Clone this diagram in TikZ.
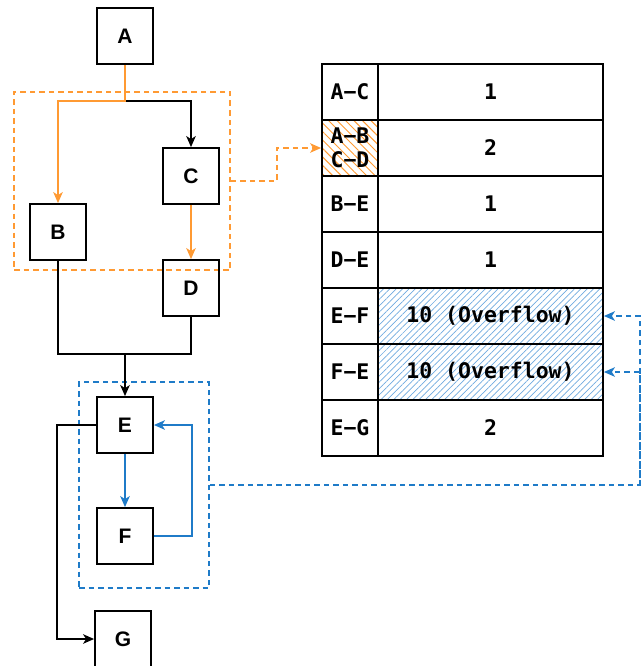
\documentclass[tikz,border=0pt]{standalone}
\usepackage{fontspec}
\setmainfont{Liberation Sans}
\newfontfamily\tblmono{DejaVu Sans Mono}
\usetikzlibrary{arrows.meta,patterns.meta}
\definecolor{grporange}{HTML}{FF9A33}
\definecolor{grpblue}{HTML}{1F7BC8}
\definecolor{hatchblue}{HTML}{6FAADF}
\tikzset{
  x=1pt,y=-1pt,
  box/.style={draw,line width=1.8pt,minimum width=56pt,minimum height=56pt,inner sep=0pt,
    font=\fontsize{21}{23}\selectfont\bfseries},
  keycell/.style={draw,line width=1.8pt,minimum width=56pt,minimum height=56pt,inner sep=0pt,
    align=center,font=\tblmono\fontsize{21.5}{25}\selectfont\bfseries},
  valcell/.style={draw,line width=1.8pt,minimum width=225pt,minimum height=56pt,inner sep=0pt,
    font=\tblmono\fontsize{21.5}{25}\selectfont\bfseries},
  tip/.style={-{Stealth[length=11pt,width=9.5pt,inset=3pt]}},
  conn/.style={line width=1.6pt},
  grp/.style={draw,dash pattern=on 5.5pt off 4pt,line width=1.5pt,inner sep=0pt},
  ohatch/.style={pattern={Lines[angle=-45,distance=6pt,line width=1pt]},pattern color=grporange},
  bhatch/.style={pattern={Lines[angle=45,distance=4.5pt,line width=0.7pt]},pattern color=hatchblue},
}
\begin{document}
\begin{tikzpicture}
\useasboundingbox (0,0) rectangle (641,666);
% group boxes
\node[grp,grporange,minimum width=216pt,minimum height=178pt] (ogrp) at (122,181) {};
\node[grp,grpblue,minimum width=130pt,minimum height=206pt] (bgrp) at (144,485) {};
% graph nodes
\node[box] (A) at (125,36) {A};
\node[box] (B) at (58,232) {B};
\node[box] (C) at (191,176) {C};
\node[box] (D) at (191,288) {D};
\node[box] (E) at (125,425) {E};
\node[box] (F) at (125,536) {F};
\node[box] (G) at (123,639) {G};
% table
\fill[ohatch] (322,120) rectangle (378,176);
\fill[bhatch] (378,288) rectangle (603,400);
\node[keycell] (kAC) at (350,92) {A−C};
\node[valcell] (vAC) at (490.5,92) {1};
\node[keycell] (kAB) at (350,148) {A−B\\[-1pt]C−D};
\node[valcell] (vAB) at (490.5,148) {2};
\node[keycell] (kBE) at (350,204) {B−E};
\node[valcell] (vBE) at (490.5,204) {1};
\node[keycell] (kDE) at (350,260) {D−E};
\node[valcell] (vDE) at (490.5,260) {1};
\node[keycell] (kEF) at (350,316) {E−F};
\node[valcell] (vEF) at (490.5,316) {10 (Overflow)};
\node[keycell] (kFE) at (350,372) {F−E};
\node[valcell] (vFE) at (490.5,372) {10 (Overflow)};
\node[keycell] (kEG) at (350,428) {E−G};
\node[valcell] (vEG) at (490.5,428) {2};
% connectors
\coordinate (split) at (125,101);
\coordinate (merge) at (125,354);
\coordinate (bturn) at (640,485);
\draw[conn,tip] (split) -| (C.north);
\draw[conn,grporange,tip] (A.south) -- (split) -| (B.north);
\draw[conn,grporange,tip] (C.south) -- (D.north);
\draw[conn] (B.south) |- (merge);
\draw[conn] (D.south) |- (merge);
\draw[conn,tip] (merge) -- (E.north);
\draw[conn,grpblue,tip] (E.south) -- (F.north);
\draw[conn,grpblue,tip] (F.east) -- ++(38,0) |- (E.east);
\draw[conn,tip] (E.west) -- ++(-39,0) |- (G.west);
\draw[conn,grporange,dash pattern=on 5.5pt off 4pt,tip] (ogrp.east) -- ++(46,0) |- (kAB.west);
\draw[conn,grpblue,dash pattern=on 5.5pt off 4pt,tip] (bgrp.east) -- (bturn) |- (vEF.east);
\draw[conn,grpblue,dash pattern=on 5.5pt off 4pt,tip] (bturn) |- (vFE.east);
\end{tikzpicture}
\end{document}
